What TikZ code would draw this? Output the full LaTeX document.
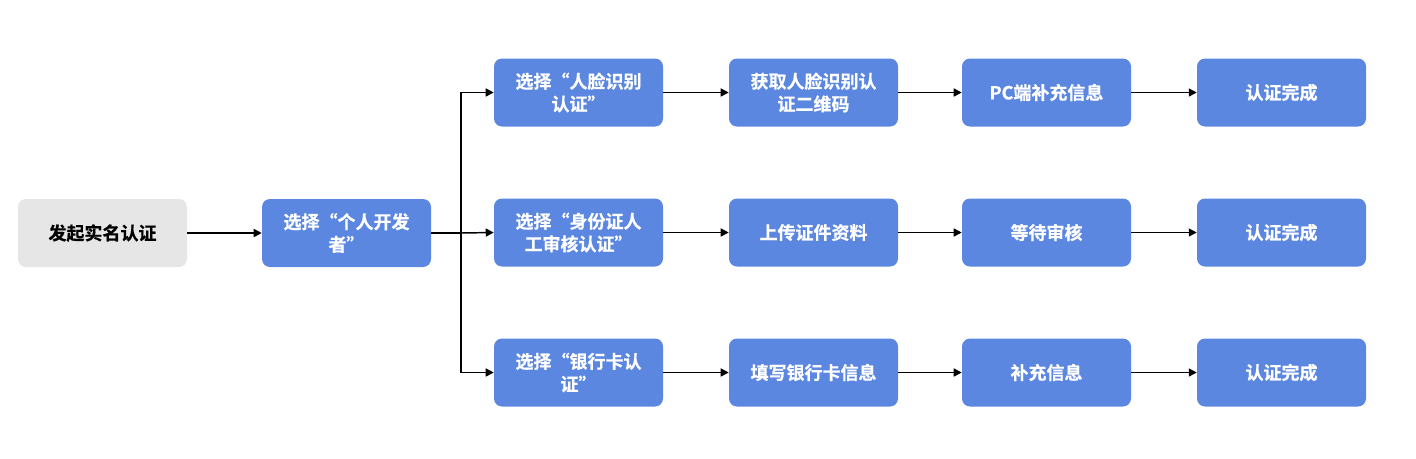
\documentclass[tikz,border=0pt]{standalone}
\usepackage{fontspec}
\setmainfont{Noto Sans CJK SC}[BoldFont={Noto Sans CJK SC Bold}, BoldFeatures={FakeBold=0.6}]
\usetikzlibrary{arrows.meta}
\definecolor{boxblue}{HTML}{5B87E0}
\definecolor{boxgrey}{HTML}{E6E6E6}
\tikzset{
  bluebox/.style={fill=boxblue, draw=none, rounded corners=6pt, minimum width=126.75pt, minimum height=51pt, inner sep=0pt, align=center, text=white, font=\bfseries\fontsize{13.5pt}{17pt}\selectfont},
  greybox/.style={bluebox, fill=boxgrey, text=black},
  conn/.style={draw=black, line width=1.1pt, -{Triangle[length=6pt,width=6pt]}},
  plainconn/.style={draw=black, line width=1.1pt}
}
\begin{document}
\begin{tikzpicture}[x=0.75pt,y=-0.75pt]
\useasboundingbox (0,0) rectangle (1416,458);
\node[greybox] (start) at (102.5,233) {发起实名认证};
\node[bluebox] (dev) at (346.5,233) {选择“个人开发\\者”};
% column 3
\node[bluebox] (a1) at (578.5,92.5) {选择“人脸识别\\认证”};
\node[bluebox] (b1) at (578.5,232.5) {选择“身份证人\\工审核认证”};
\node[bluebox] (c1) at (578.5,372.5) {选择“银行卡认\\证”};
% column 4
\node[bluebox] (a2) at (813.5,92.5) {获取人脸识别认\\证二维码};
\node[bluebox] (b2) at (813.5,232.5) {上传证件资料};
\node[bluebox] (c2) at (813.5,372.5) {填写银行卡信息};
% column 5
\node[bluebox] (a3) at (1046.5,92.5) {PC端补充信息};
\node[bluebox] (b3) at (1046.5,232.5) {等待审核};
\node[bluebox] (c3) at (1046.5,372.5) {补充信息};
% column 6
\node[bluebox] (a4) at (1281.5,92.5) {认证完成};
\node[bluebox] (b4) at (1281.5,232.5) {认证完成};
\node[bluebox] (c4) at (1281.5,372.5) {认证完成};
\coordinate (split) at (461,233);
\draw[conn] (start.east) -- (dev.west);
\draw[plainconn] (dev.east) -- (split);
\draw[plainconn] (461,92.5) -- (461,372.5);
\draw[conn] (split) |- (a1.west);
\draw[conn] (split) -- (b1.west);
\draw[conn] (split) |- (c1.west);
\foreach \r in {a,b,c}{
  \draw[conn] (\r1.east) -- (\r2.west);
  \draw[conn] (\r2.east) -- (\r3.west);
  \draw[conn] (\r3.east) -- (\r4.west);
}
\end{tikzpicture}
\end{document}
